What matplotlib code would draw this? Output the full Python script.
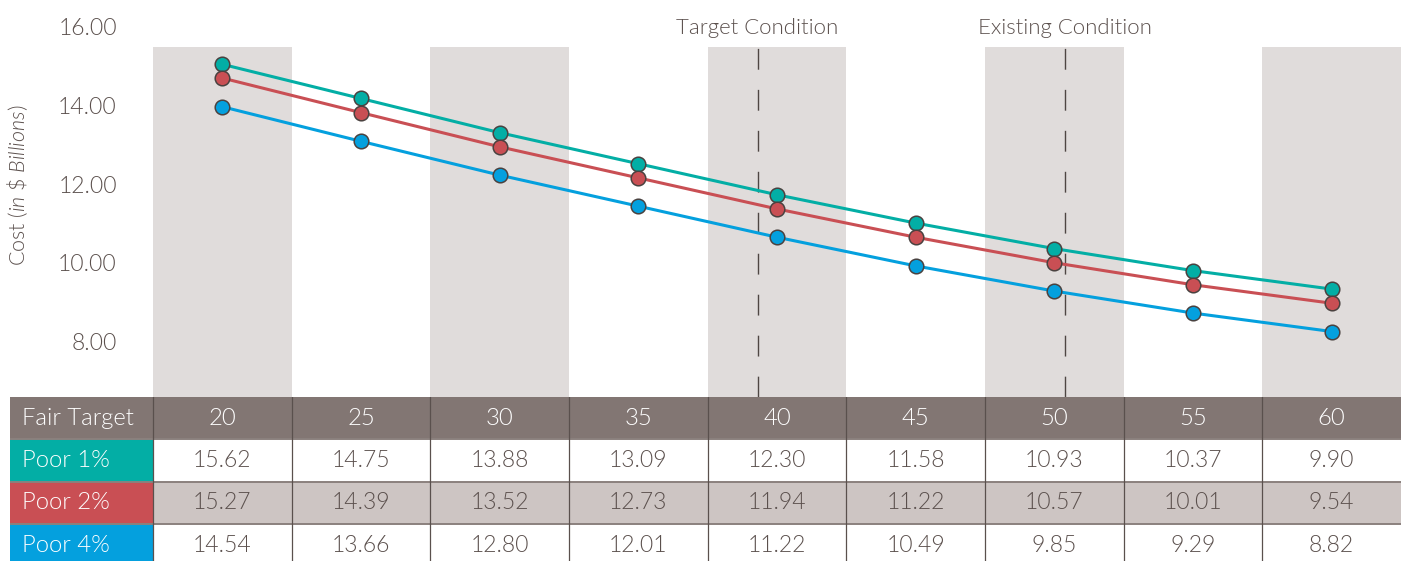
import matplotlib
matplotlib.use("Agg")
import matplotlib.pyplot as plt
from matplotlib.patches import Rectangle

# data
FAIR_TARGET = [20, 25, 30, 35, 40, 45, 50, 55, 60]
POOR_1 = [15.62, 14.75, 13.88, 13.09, 12.30, 11.58, 10.93, 10.37, 9.90]
POOR_2 = [15.27, 14.39, 13.52, 12.73, 11.94, 11.22, 10.57, 10.01, 9.54]
POOR_4 = [14.54, 13.66, 12.80, 12.01, 11.22, 10.49, 9.85, 9.29, 8.82]
SERIES_NAMES = ["Poor 1%", "Poor 2%", "Poor 4%"]
Y_TICKS = [8, 10, 12, 14, 16]
CONDITION_NAMES = ["Target Condition", "Existing Condition"]
CONDITION_AT = [39.3, 50.4]

COLORS = ["#03aea5", "#c94f54", "#04a0de"]
TEXT = "#5b504d"
HEADER = "#827673"
BAND = "#e0dcdb"
ROW_ALT = "#cdc5c3"
FONT = dict(family="Lato", weight=300)
# the source's axis labels sit slightly above the data scale
TICK_SHIFT = 0.57

plt.rcParams["lines.scale_dashes"] = False
plt.rcParams["mathtext.fontset"] = "custom"
plt.rcParams["mathtext.it"] = "Lato:style=italic:weight=300"
plt.rcParams["mathtext.rm"] = "Lato:weight=300"

W, H = 1405, 561
fig = plt.figure(figsize=(W / 100, H / 100), dpi=100)

# ---- chart ----
top_tbl = 397
ax = fig.add_axes([153 / W, (H - top_tbl) / H, 1248 / W, top_tbl / H])
ax.set_xlim(17.5, 62.5)
ax.set_ylim(7.154, 17.256)
band_top = (top_tbl - 47) / top_tbl
for i, x in enumerate(FAIR_TARGET):
    if i % 2 == 0:
        ax.axvspan(x - 2.5, x + 2.5, ymin=0, ymax=band_top, color=BAND, lw=0, zorder=0)

for name, x in zip(CONDITION_NAMES, CONDITION_AT):
    ax.axvline(x, ymin=0, ymax=band_top, color="#4e4643", lw=1.0,
               linestyle=(0, (15, 14.5)), zorder=1)
    ax.text(x, 0.93, name, transform=ax.get_xaxis_transform(), ha="center",
            va="center", fontsize=16, color=TEXT, **FONT)

for vals, c in zip([POOR_1, POOR_2, POOR_4], COLORS):
    ax.plot(FAIR_TARGET, vals, color=c, lw=2.2, marker="o", ms=10.5,
            mfc=c, mec="#4a4240", mew=1.1, zorder=3)

ax.set_yticks([t + TICK_SHIFT for t in Y_TICKS])
ax.set_yticklabels([f"{t:.2f}" for t in Y_TICKS], fontsize=16.5, color=TEXT, **FONT)
ax.tick_params(axis="y", length=0, pad=26)
ax.set_xticks([])
for s in ax.spines.values():
    s.set_visible(False)
fig.text(18 / W, 1 - 185 / H, r"Cost $\mathit{(in\ \$\ Billions)}$", rotation=90,
         ha="center", va="center", fontsize=15.5, color=TEXT, **FONT)

# ---- table ----
tbl_h = H - top_tbl
tx = fig.add_axes([10 / W, 0, (1401 - 10) / W, tbl_h / H])
tx.set_xlim(0, 1391)
tx.set_ylim(tbl_h, 0)
tx.axis("off")
lab_w = 143
col_w = (1391 - lab_w) / len(FAIR_TARGET)
row_h = 42.3
fs = 16.5
fs_lab = 17.2

rows = [POOR_1, POOR_2, POOR_4]
# header
tx.add_patch(Rectangle((0, 0), 1391, row_h, color=HEADER, lw=0))
tx.text(12, row_h / 2, "Fair Target", ha="left", va="center", fontsize=fs_lab,
        color="white", **FONT)
for j, x in enumerate(FAIR_TARGET):
    tx.text(lab_w + (j + 0.5) * col_w, row_h / 2, str(x), ha="center", va="center",
            fontsize=fs_lab, color="white", **FONT)

for r, (name, vals, c) in enumerate(zip(SERIES_NAMES, rows, COLORS)):
    y0 = (r + 1) * row_h
    tx.add_patch(Rectangle((0, y0), lab_w, row_h, color=c, lw=0))
    if r == 1:
        tx.add_patch(Rectangle((lab_w, y0), 1391 - lab_w, row_h, color=ROW_ALT, lw=0))
    tx.text(12, y0 + row_h / 2, name, ha="left", va="center", fontsize=fs_lab,
            color="white", **FONT)
    for j, v in enumerate(vals):
        tx.text(lab_w + (j + 0.5) * col_w, y0 + row_h / 2, f"{v:.2f}", ha="center",
                va="center", fontsize=fs, color=TEXT, **FONT)
    tx.plot([0, 1391], [y0, y0], color="#8b817e", lw=1.4, solid_capstyle="butt")

for j in range(len(FAIR_TARGET)):
    xb = lab_w + j * col_w
    tx.plot([xb, xb], [0, tbl_h], color="#5a504d", lw=0.9)

fig.savefig("out.png", dpi=100)
